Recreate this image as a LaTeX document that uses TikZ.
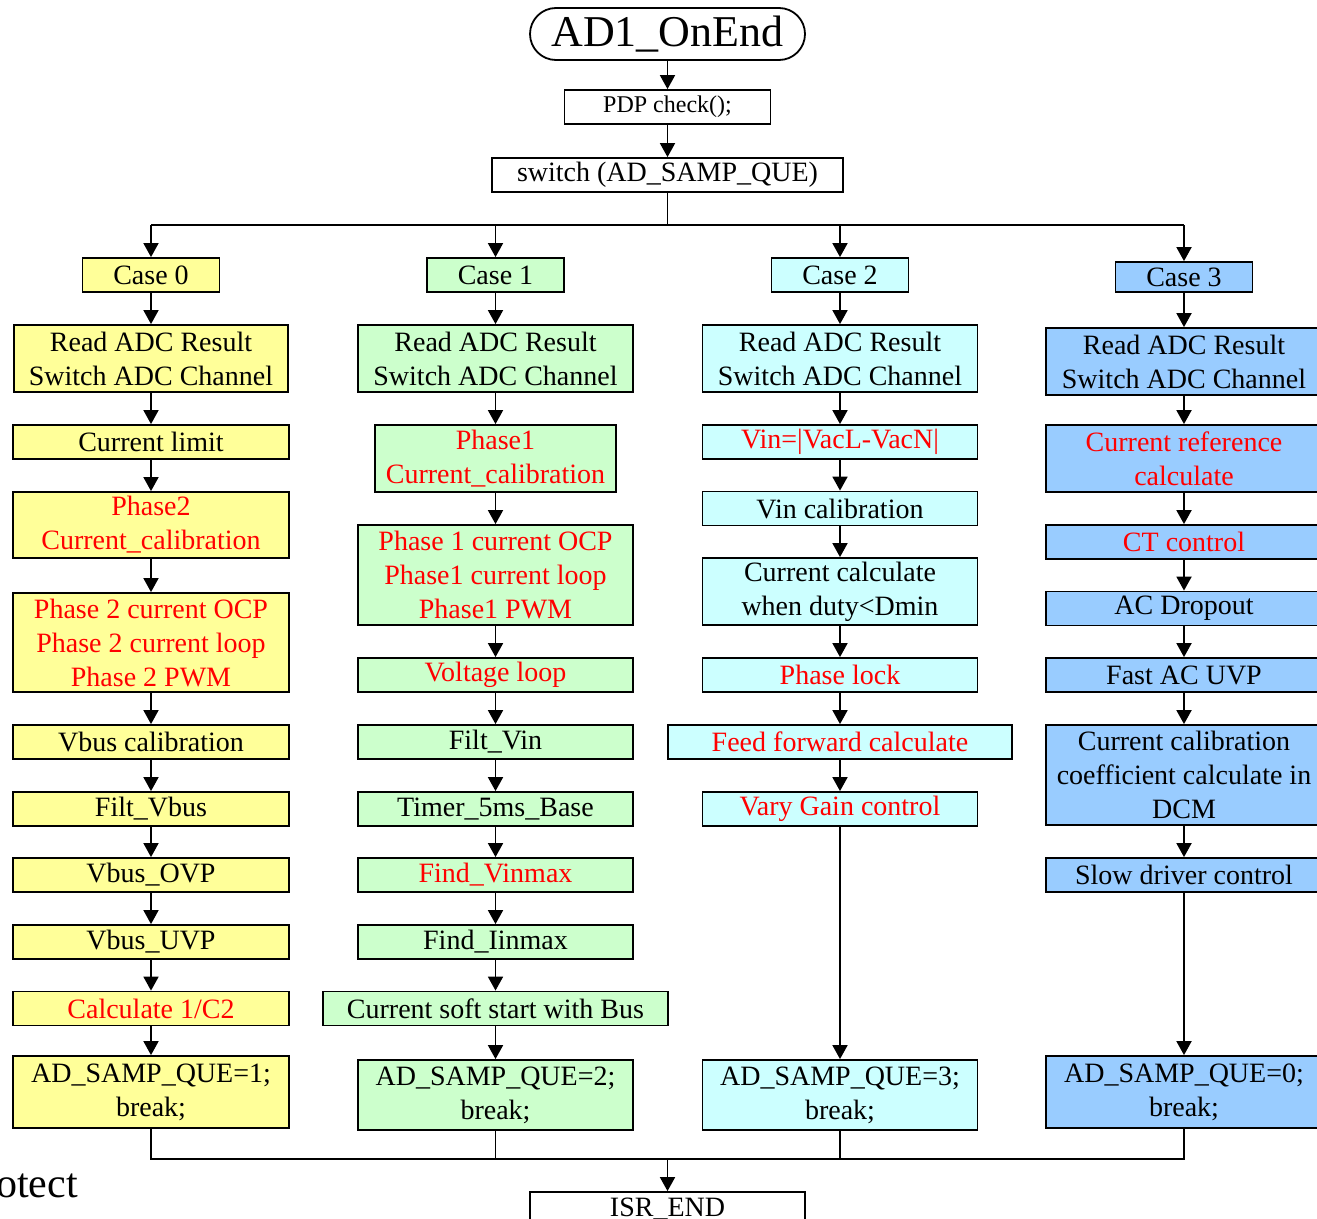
\documentclass[tikz,border=0pt]{standalone}
\usepackage{fontspec}
\setmainfont{Liberation Serif}
\usetikzlibrary{arrows.meta}
\definecolor{cyel}{HTML}{FFFF99}
\definecolor{cgrn}{HTML}{CCFFCC}
\definecolor{ccyn}{HTML}{CCFFFF}
\definecolor{cblu}{HTML}{99CCFF}
\definecolor{cred}{HTML}{FF0000}
\newcommand{\bodyfont}{\fontsize{28}{34}\selectfont}
\tikzset{
  box/.style={draw, line width=1.8pt, inner sep=0pt, align=center, font=\bodyfont,
              minimum height=34pt},
  ybox/.style={box, fill=cyel, minimum width=276pt},
  gbox/.style={box, fill=cgrn, minimum width=275pt},
  cbox/.style={box, fill=ccyn, minimum width=275pt},
  bbox/.style={box, fill=cblu, minimum width=276pt},
  casebox/.style={minimum width=137pt},
  hot/.style={text=cred},
  arr/.style={line width=1.8pt, -{Triangle[length=14pt,width=15pt]}},
  ln/.style={line width=1.8pt}
}
\begin{document}
\begin{tikzpicture}[x=1pt,y=-1pt]
\useasboundingbox (0,0) rectangle (1317,1218);
\clip (0,0) rectangle (1317,1218);

% entry of the ISR
\node[draw, line width=1.8pt, rounded corners=26pt, minimum width=275pt, minimum height=52pt,
      inner sep=0pt, font=\fontsize{44}{48}\selectfont] (start) at (667.5,34) {AD1\_OnEnd};
\node[box, minimum width=206pt, font=\fontsize{24}{28}\selectfont] (pdp) at (667.5,107) {PDP check();};
\node[box, minimum width=351pt] (sw) at (667.5,175) {switch (AD\_SAMP\_QUE)};
\coordinate (bus) at (667.5,225);

% case 0
\node[ybox, casebox] (c0) at (151,275) {Case 0};
\node[ybox, minimum width=274pt, minimum height=67pt] (r0) at (151,358.5) {Read ADC Result\\Switch ADC Channel};
\node[ybox] (n01) at (151,442) {Current limit};
\node[ybox, hot, minimum height=66pt] (n02) at (151,525) {Phase2\\Current\_calibration};
\node[ybox, hot, minimum height=99pt] (n03) at (151,642.5) {Phase 2 current OCP\\Phase 2 current loop\\Phase 2 PWM};
\node[ybox] (n04) at (151,742) {Vbus calibration};
\node[ybox] (n05) at (151,809) {Filt\_Vbus};
\node[ybox] (n06) at (151,875) {Vbus\_OVP};
\node[ybox] (n07) at (151,942) {Vbus\_UVP};
\node[ybox, hot] (n08) at (151,1008.5) {Calculate 1/C2};
\node[ybox, minimum height=72pt] (q0) at (151,1092) {AD\_SAMP\_QUE=1;\\break;};

% case 1
\node[gbox, casebox] (c1) at (495.5,275) {Case 1};
\node[gbox, minimum height=67pt] (r1) at (495.5,358.5) {Read ADC Result\\Switch ADC Channel};
\node[gbox, hot, minimum width=241pt, minimum height=67pt] (n11) at (495.5,458.5) {Phase1\\Current\_calibration};
\node[gbox, hot, minimum height=100pt] (n12) at (495.5,575) {Phase 1 current OCP\\Phase1 current loop\\Phase1 PWM};
\node[gbox, hot] (n13) at (495.5,675) {Voltage loop};
\node[gbox] (n14) at (495.5,742) {Filt\_Vin};
\node[gbox] (n15) at (495.5,809) {Timer\_5ms\_Base};
\node[gbox, hot] (n16) at (495.5,875) {Find\_Vinmax};
\node[gbox] (n17) at (495.5,942) {Find\_Iinmax};
\node[gbox, minimum width=345pt] (n18) at (495.5,1008.5) {Current soft start with Bus};
\node[gbox, minimum height=70pt] (q1) at (495.5,1095) {AD\_SAMP\_QUE=2;\\break;};

% case 2
\node[cbox, casebox] (c2) at (840,275) {Case 2};
\node[cbox, minimum height=67pt] (r2) at (840,358.5) {Read ADC Result\\Switch ADC Channel};
\node[cbox, hot] (n21) at (840,442) {Vin=|VacL-VacN|};
\node[cbox] (n22) at (840,508.5) {Vin calibration};
\node[cbox, minimum height=67pt] (n23) at (840,591.5) {Current calculate\\when duty<Dmin};
\node[cbox, hot] (n24) at (840,675) {Phase lock};
\node[cbox, hot, minimum width=344pt] (n25) at (840,742) {Feed forward calculate};
\node[cbox, hot] (n26) at (840,809) {Vary Gain control};
\node[cbox, minimum height=70pt] (q2) at (840,1095) {AD\_SAMP\_QUE=3;\\break;};

% case 3
\node[bbox, casebox, minimum height=30pt] (c3) at (1184,277) {Case 3};
\node[bbox, minimum height=67pt] (r3) at (1184,361.5) {Read ADC Result\\Switch ADC Channel};
\node[bbox, hot, minimum height=67pt] (n31) at (1184,458.5) {Current reference\\calculate};
\node[bbox, hot] (n32) at (1184,542) {CT control};
\node[bbox] (n33) at (1184,608.5) {AC Dropout};
\node[bbox] (n34) at (1184,675) {Fast AC UVP};
\node[bbox, minimum height=100pt] (n35) at (1184,775) {Current calibration\\coefficient calculate in\\DCM};
\node[bbox] (n36) at (1184,875) {Slow driver control};
\node[bbox, minimum height=72pt] (q3) at (1184,1092) {AD\_SAMP\_QUE=0;\\break;};

% exit of the ISR
\node[box, minimum width=275pt] (isr) at (667.5,1209) {ISR\_END};
\node[font=\fontsize{42}{46}\selectfont, anchor=base east, inner sep=0pt] (side) at (78,1197) {otect};
\coordinate (join) at (667.5,1159);

% head of the flow
\draw[arr] (start) -- (pdp);
\draw[arr] (pdp) -- (sw);
\draw[ln] (sw.south) -- (bus);
\draw[ln] (c0.north |- bus) -- (c3.north |- bus);
\foreach \c in {c0,c1,c2,c3} \draw[arr] (\c.north |- bus) -- (\c.north);

% chains inside each case
\foreach \a/\b in {c0/r0,r0/n01,n01/n02,n02/n03,n03/n04,n04/n05,n05/n06,n06/n07,n07/n08,n08/q0,
                   c1/r1,r1/n11,n11/n12,n12/n13,n13/n14,n14/n15,n15/n16,n16/n17,n17/n18,n18/q1,
                   c2/r2,r2/n21,n21/n22,n22/n23,n23/n24,n24/n25,n25/n26,n26/q2,
                   c3/r3,r3/n31,n31/n32,n32/n33,n33/n34,n34/n35,n35/n36,n36/q3}
  \draw[arr] (\a.south) -- (\b.north);

% merge after break
\draw[ln] (q0.south) -- (q0.south |- join) -- (q3.south |- join) -- (q3.south);
\draw[ln] (q1.south) -- (q1.south |- join);
\draw[ln] (q2.south) -- (q2.south |- join);
\draw[arr] (join) -- (isr.north);
\end{tikzpicture}
\end{document}
